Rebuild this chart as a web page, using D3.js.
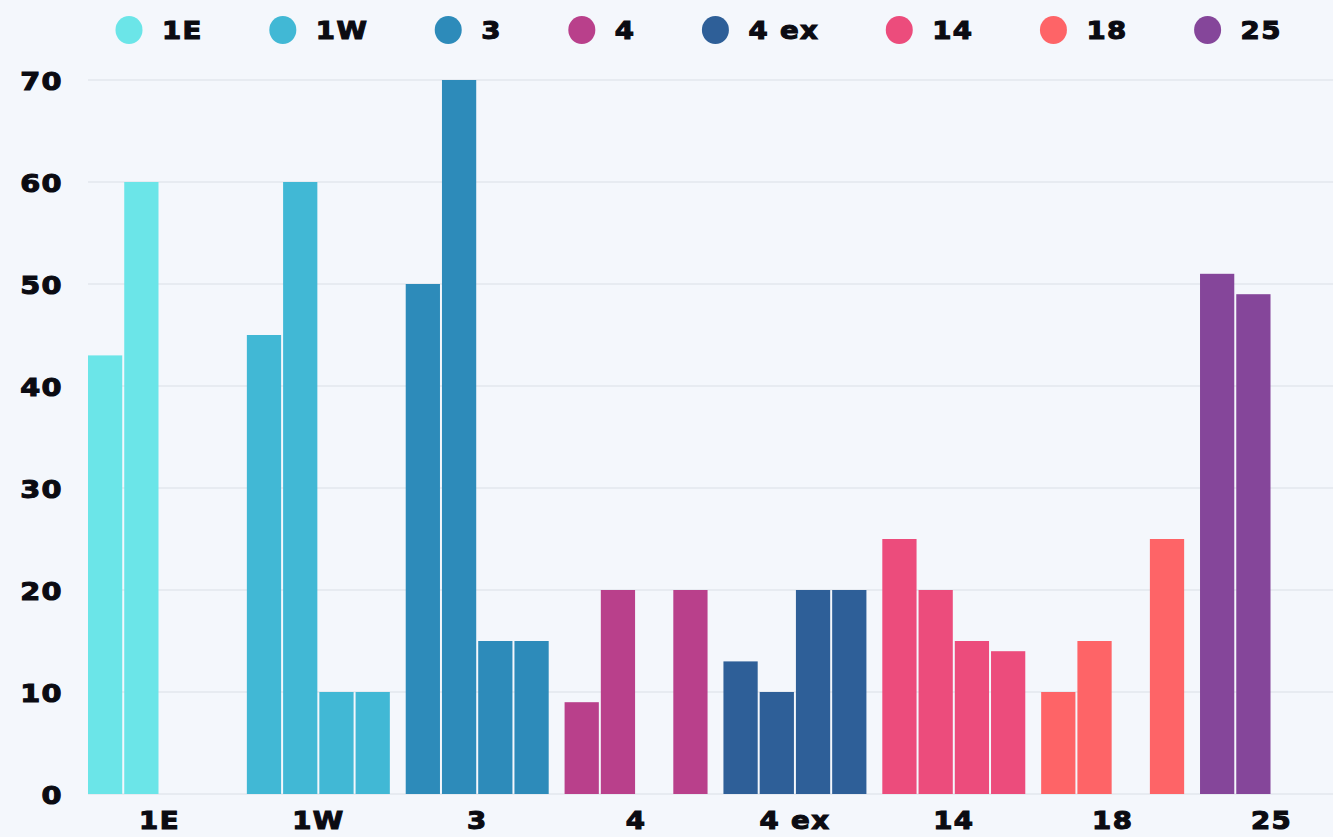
<!DOCTYPE html>
<html>
<head>
<meta charset="utf-8">
<script src="https://cdn.jsdelivr.net/npm/d3@7"></script>
<style>
  body { margin: 0; background: #f4f7fc; }
  text { font-family: "DejaVu Sans", sans-serif; font-weight: bold; fill: #0b0b12; }
</style>
</head>
<body>
<script>
// chart data
const categories = ["1E", "1W", "3", "4", "4 ex", "14", "18", "25"];
const values = [
  [43, 60, null, null],
  [45, 60, 10, 10],
  [50, 70, 15, 15],
  [9, 20, null, 20],
  [13, 10, 20, 20],
  [25, 20, 15, 14],
  [10, 15, null, 25],
  [51, 49, null, null]
];
const colors = ["#6be5e8", "#41b8d5", "#2d8bba", "#b9408b", "#2e5f98", "#ec4c7c", "#fe6467", "#85469a"];
const yTicks = [0, 10, 20, 30, 40, 50, 60, 70];

let width = 1333;
let height = 837;
let margin = {top: 80, right: 0, bottom: 43, left: 88};
let stretch = 1.15; // the original font is an extended one

let svg = d3.select("body")
            .append("svg")
            .attr("width", width)
            .attr("height", height);

svg.append("rect")
   .attr("width", width)
   .attr("height", height)
   .attr("fill", "#f4f7fc");

// scales
let x = d3.scaleBand()
          .domain(categories)
          .range([margin.left, 1343])
          .paddingInner(0.1)
          .paddingOuter(0);

let xSlot = d3.scaleBand()
              .domain([0, 1, 2, 3])
              .range([0, x.bandwidth()])
              .paddingInner(0.055);

let y = d3.scaleLinear()
          .domain([0, 70])
          .range([height - margin.bottom, margin.top]);

// gridlines
svg.selectAll(".grid")
   .data(yTicks)
   .enter().append("line")
           .attr("class", "grid")
           .attr("x1", margin.left)
           .attr("x2", width)
           .attr("y1", d => y(d))
           .attr("y2", d => y(d))
           .attr("stroke", "#e3e7ee")
           .attr("stroke-width", 1.5);

function label(sel, size) {
  return sel.attr("font-size", size)
            .attr("letter-spacing", 1.2)
            .attr("stroke", "#0b0b12")
            .attr("stroke-width", 1.1);
}

// y tick labels
svg.selectAll(".ylab")
   .data(yTicks)
   .enter().append("text")
           .attr("class", "ylab")
           .attr("transform", d => `translate(63,${y(d) + 1}) scale(${stretch},1)`)
           .attr("text-anchor", "end")
           .attr("dominant-baseline", "central")
           .call(label, 25)
           .text(d => d);

// bars
let groups = svg.selectAll(".group")
                .data(categories)
                .enter().append("g")
                        .attr("class", "group")
                        .attr("transform", d => `translate(${x(d)},0)`);

groups.selectAll("rect")
      .data((d, i) => values[i].map((v, j) => ({v: v, slot: j, c: i})).filter(e => e.v !== null))
      .enter().append("rect")
              .attr("x", d => xSlot(d.slot))
              .attr("width", xSlot.bandwidth())
              .attr("y", d => y(d.v))
              .attr("height", d => y(0) - y(d.v))
              .attr("fill", d => colors[d.c]);

// x labels
svg.selectAll(".xlab")
   .data(categories)
   .enter().append("text")
           .attr("class", "xlab")
           .attr("transform", d => `translate(${x(d) + x.bandwidth() / 2},829) scale(${stretch},1)`)
           .attr("text-anchor", "middle")
           .call(label, 24)
           .text(d => d);

// legend
let legend = svg.append("g");
let lx = 116;
categories.forEach(function(c, i) {
  let item = legend.append("g").attr("transform", `translate(${lx},0)`);
  item.append("ellipse")
      .attr("cx", 13)
      .attr("cy", 30)
      .attr("rx", 13.5)
      .attr("ry", 14)
      .attr("fill", colors[i]);
  let t = item.append("text")
              .attr("transform", `translate(46,39) scale(${stretch},1)`)
              .call(label, 24)
              .text(c);
  lx += 46 + t.node().getComputedTextLength() * stretch + 67;
});
</script>
</body>
</html>
